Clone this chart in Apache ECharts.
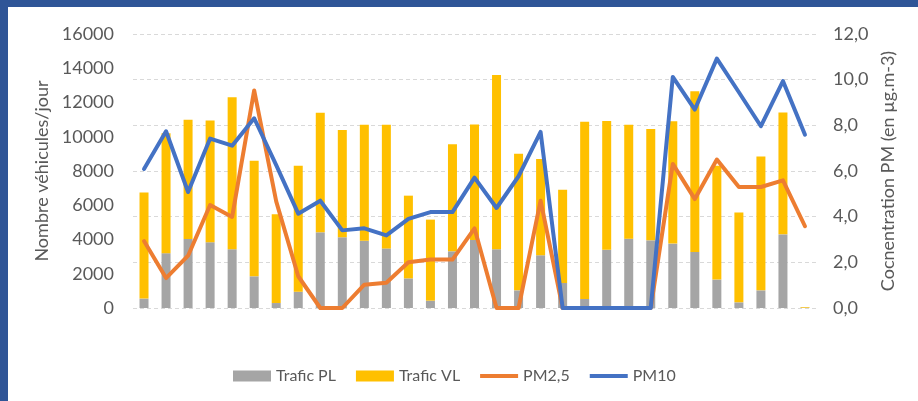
<!DOCTYPE html>
<html>
<head>
<meta charset="utf-8">
<style>
  html, body { margin: 0; padding: 0; background: #fff; }
  #chart { width: 918px; height: 401px; }
</style>
<script src="https://cdn.jsdelivr.net/npm/echarts@6/dist/echarts.min.js"></script>
</head>
<body>
<div id="chart"></div>
<script>
// jours du mois
var days = [];
for (var d = 1; d <= 31; d++) days.push(String(d));

// trafic poids lourds (veh/jour)
var traficPL = [550, 3200, 4030, 3840, 3430, 1850, 290, 950, 4420, 4130,
  3930, 3480, 1730, 430, 3310, 3970, 3430, 1030, 3080, 1460,
  530, 3400, 4050, 3950, 3760, 3270, 1660, 330, 1030, 4300, 20];
// trafic vehicules legers (empile sur PL)
var traficVL = [6200, 7000, 6970, 7110, 8870, 6750, 5180, 7360, 6980, 6270,
  6770, 7220, 4830, 4730, 6250, 6750, 10170, 7970, 5620, 5440,
  10350, 7520, 6650, 6500, 7140, 9380, 6640, 5240, 7810, 7120, 40];
// concentrations (µg.m-3)
var pm25 = [2.93, 1.31, 2.29, 4.51, 3.99, 9.53, 4.67, 1.39, 0, 0,
  1.02, 1.11, 2.0, 2.12, 2.12, 3.49, 0, 0, 4.70, 0,
  0, 0, 0, 0, 6.31, 4.77, 6.50, 5.30, 5.30, 5.59, 3.58];
var pm10 = [6.09, 7.74, 5.08, 7.42, 7.11, 8.31, 6.26, 4.13, 4.70, 3.40,
  3.49, 3.18, 3.90, 4.20, 4.20, 5.71, 4.38, 5.77, 7.71, 0,
  0, 0, 0, 0, 10.12, 8.69, 10.92, 9.45, 7.96, 9.94, 7.59];

var leftTicks = [0, 16000, 2000];   // min, max, pas
var rightTicks = [0, 12, 2];

var txt = "#595959";
var font = "Lato";
var fs = 18;
var lineIcon = "path://M0,0 L40,0 L40,4 L0,4 Z";

var chart = echarts.init(document.getElementById("chart"));
var option = {
  animation: false,
  textStyle: { fontFamily: font },
  graphic: [
    // cadre bleu
    { type: "rect", left: 0, top: 0, shape: { width: 918, height: 7 }, style: { fill: "#2F5597" }, z: 100 },
    { type: "rect", left: 0, top: 0, shape: { width: 8, height: 401 }, style: { fill: "#2F5597" }, z: 100 }
  ],
  grid: { left: 133, right: 102, top: 34, bottom: 93 },
  legend: {
    bottom: 12,
    left: 228,
    itemWidth: 38,
    itemHeight: 11,
    itemGap: 20,
    textStyle: { color: txt, fontSize: 16, fontFamily: font },
    data: [
      { name: "Trafic PL", icon: "rect" },
      { name: "Trafic VL", icon: "rect" },
      { name: "PM2,5", icon: lineIcon },
      { name: "PM10", icon: lineIcon }
    ]
  },
  xAxis: {
    type: "category",
    data: days,
    axisLine: { show: false },
    axisTick: { show: false },
    axisLabel: { show: false }
  },
  yAxis: [
    {
      type: "value",
      min: leftTicks[0],
      max: leftTicks[1],
      interval: leftTicks[2],
      name: "Nombre véhicules/jour",
      nameLocation: "middle",
      nameGap: 70,
      nameTextStyle: { color: txt, fontSize: fs, fontFamily: font },
      axisLine: { show: false },
      axisTick: { show: false },
      splitLine: { show: false },
      axisLabel: {
        color: txt, fontSize: fs, margin: 19,
        formatter: function (v) { return String(v); }
      }
    },
    {
      type: "value",
      min: rightTicks[0],
      max: rightTicks[1],
      interval: rightTicks[2],
      name: "Cocnentration PM (en µg.m-3)",
      nameLocation: "middle",
      nameGap: 62,
      nameTextStyle: { color: txt, fontSize: fs, fontFamily: font },
      axisLine: { show: false },
      axisTick: { show: false },
      splitLine: { show: true, lineStyle: { color: "#D9D9D9", type: [4, 3], width: 1 } },
      axisLabel: {
        color: txt, fontSize: fs, margin: 17,
        formatter: function (v) { return v.toFixed(1).replace(".", ","); }
      }
    }
  ],
  series: [
    {
      name: "Trafic PL",
      type: "bar",
      stack: "trafic",
      barWidth: 9,
      itemStyle: { color: "#A5A5A5" },
      data: traficPL
    },
    {
      name: "Trafic VL",
      type: "bar",
      stack: "trafic",
      barWidth: 9,
      itemStyle: { color: "#FFC000" },
      data: traficVL
    },
    {
      name: "PM2,5",
      type: "line",
      yAxisIndex: 1,
      symbol: "none",
      lineStyle: { color: "#ED7D31", width: 4, cap: "round", join: "round" },
      itemStyle: { color: "#ED7D31" },
      data: pm25
    },
    {
      name: "PM10",
      type: "line",
      yAxisIndex: 1,
      symbol: "none",
      lineStyle: { color: "#4472C4", width: 4, cap: "round", join: "round" },
      itemStyle: { color: "#4472C4" },
      data: pm10
    }
  ]
};
chart.setOption(option);
</script>
</body>
</html>
